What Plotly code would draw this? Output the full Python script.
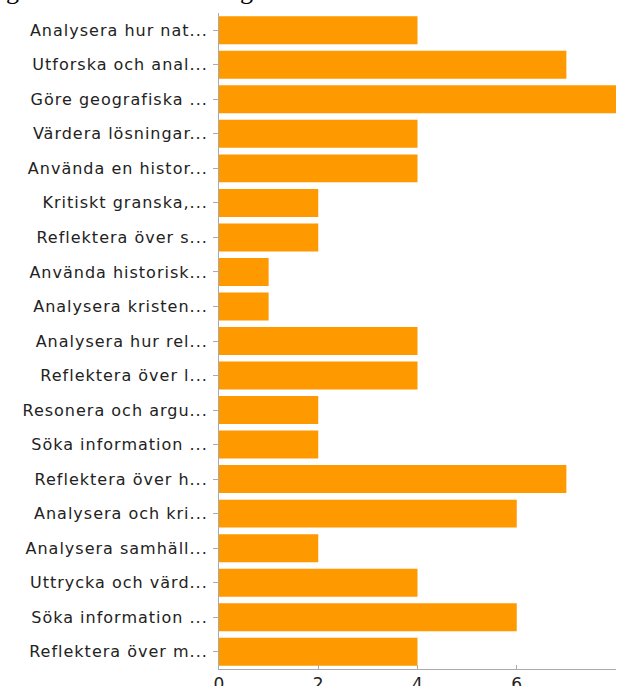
import plotly.graph_objects as go

categories = [
    "Analysera hur nat...",
    "Utforska och anal...",
    "Göre geografiska ...",
    "Värdera lösningar...",
    "Använda en histor...",
    "Kritiskt granska,...",
    "Reflektera över s...",
    "Använda historisk...",
    "Analysera kristen...",
    "Analysera hur rel...",
    "Reflektera över l...",
    "Resonera och argu...",
    "Söka information ...",
    "Reflektera över h...",
    "Analysera och kri...",
    "Analysera samhäll...",
    "Uttrycka och värd...",
    "Söka information ...",
    "Reflektera över m...",
]
values = [4, 7, 8, 4, 4, 2, 2, 1, 1, 4, 4, 2, 2, 7, 6, 2, 4, 6, 4]
x_ticks = [0, 2, 4, 6, 8]

# unique keys so duplicate labels get their own rows
keys = [f"c{i}" for i in range(len(categories))]

fig = go.Figure(
    go.Bar(
        x=values,
        y=keys,
        orientation="h",
        marker=dict(color="#FF9900", line=dict(width=0)),
        hoverinfo="skip",
    )
)

fig.update_layout(
    width=621,
    height=686,
    margin=dict(l=219, r=5, t=13, b=17, autoexpand=False),
    paper_bgcolor="white",
    plot_bgcolor="white",
    bargap=0.19,
    showlegend=False,
    hovermode=False,
    font=dict(family="DejaVu Sans, Liberation Sans, sans-serif", size=16, color="#222222"),
)

# cut-off title fragments visible at the very top of the reference
for xpx in [13, 246]:
    fig.add_annotation(
        text="g",
        xref="paper", yref="paper",
        x=(xpx - 219) / (621 - 219 - 5),
        y=1 + 6 / 656,
        xanchor="center", yanchor="bottom",
        showarrow=False,
        font=dict(family="Liberation Serif", size=26, color="#000000"),
    )

fig.update_xaxes(
    range=[0, 8],
    tickvals=x_ticks,
    showgrid=False,
    zeroline=False,
    showline=True,
    linecolor="#AAAAAA",
    linewidth=1,
    ticks="inside",
    ticklen=4,
    tickcolor="#AAAAAA",
    tickfont=dict(size=17),
    automargin=False,
)

fig.update_yaxes(
    autorange="reversed",
    tickvals=keys,
    ticktext=categories,
    showgrid=False,
    showline=True,
    linecolor="#AAAAAA",
    linewidth=1,
    ticks="outside",
    ticklen=5,
    tickcolor="#AAAAAA",
    ticklabelstandoff=2,
    automargin=False,
)

post = """
document.body.style.margin='0';
var st = document.createElement('style');
st.textContent = '.ytick text{letter-spacing:1px;}';
document.head.appendChild(st);
"""

fig.write_html("out.html", post_script=post, config={"displayModeBar": False, "staticPlot": True})
